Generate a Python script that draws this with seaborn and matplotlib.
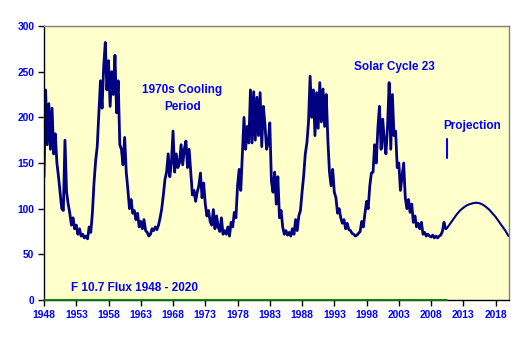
import numpy as np
import pandas as pd
import matplotlib
matplotlib.use("Agg")
import matplotlib.pyplot as plt
import seaborn as sns

# Quarterly F10.7 flux readings, 1948.0 to 2010.25
start_year = 1948
flux = [
    135, 230, 170, 215,   # 1948
    165, 210, 160, 182,   # 1949
    150, 135, 118, 100,   # 1950
    98, 175, 118, 105,    # 1951
    95, 82, 90, 78,       # 1952
    82, 72, 78, 70,       # 1953
    72, 68, 70, 67,       # 1954
    80, 74, 95, 128,      # 1955
    152, 168, 205, 240,   # 1956
    210, 255, 282, 230,   # 1957
    262, 212, 250, 225,   # 1958
    268, 205, 240, 170,   # 1959
    165, 148, 178, 140,   # 1960
    121, 100, 110, 95,    # 1961
    98, 88, 95, 80,       # 1962
    86, 78, 88, 76,       # 1963
    74, 70, 72, 78,       # 1964
    76, 80, 77, 82,       # 1965
    90, 100, 115, 132,    # 1966
    140, 160, 135, 150,   # 1967
    185, 140, 160, 145,   # 1968
    150, 170, 148, 165,   # 1969
    174, 145, 165, 140,   # 1970
    115, 120, 108, 118,   # 1971
    125, 139, 112, 128,   # 1972
    105, 92, 98, 86,      # 1973
    82, 99, 78, 92,       # 1974
    80, 75, 90, 72,       # 1975
    76, 72, 80, 70,       # 1976
    85, 80, 96, 90,       # 1977
    125, 143, 120, 160,   # 1978
    200, 165, 190, 172,   # 1979
    230, 172, 228, 175,   # 1980
    222, 180, 227, 168,   # 1981
    212, 192, 165, 172,   # 1982
    194, 130, 118, 140,   # 1983
    105, 135, 90, 98,     # 1984
    80, 72, 76, 71,       # 1985
    74, 70, 78, 72,       # 1986
    88, 76, 92, 98,       # 1987
    118, 136, 160, 172,   # 1988
    195, 245, 200, 230,   # 1989
    180, 227, 188, 238,   # 1990
    195, 231, 190, 225,   # 1991
    175, 140, 125, 143,   # 1992
    118, 112, 95, 100,    # 1993
    90, 84, 88, 78,       # 1994
    84, 77, 76, 73,       # 1995
    72, 70, 71, 73,       # 1996
    75, 86, 80, 95,       # 1997
    108, 100, 125, 139,   # 1998
    140, 170, 150, 188,   # 1999
    212, 165, 198, 175,   # 2000
    160, 190, 238, 165,   # 2001
    225, 180, 185, 145,   # 2002
    150, 120, 135, 150,   # 2003
    112, 100, 110, 96,    # 2004
    105, 85, 92, 80,      # 2005
    84, 78, 85, 72,       # 2006
    74, 70, 72, 70,       # 2007
    69, 71, 68, 70,       # 2008
    68, 70, 71, 75,       # 2009
    85, 78,               # 2010
]

# Projection curve
proj_years = [2010.4, 2011.0, 2011.5, 2012.0, 2012.5, 2013.0, 2013.5, 2014.0,
              2014.5, 2015.0, 2015.5, 2016.0, 2016.5, 2017.0, 2017.5, 2018.0,
              2018.5, 2019.0, 2019.5, 2020.0]
proj_flux = [78, 84, 89, 94, 98, 101, 103.5, 105, 106, 106.5, 106, 104.5,
             102, 99, 95, 91, 86, 81, 76, 70]

x_ticks = list(range(1948, 2019, 5))
y_ticks = [0, 50, 100, 150, 200, 250, 300]

df = pd.DataFrame({"year": start_year + np.arange(len(flux)) * 0.25, "flux": flux})
dfp = pd.DataFrame({"year": proj_years, "flux": proj_flux})

sns.set_theme(style="white")
plt.rcParams["font.family"] = ["Liberation Sans", "DejaVu Sans"]

fig = plt.figure(figsize=(5.25, 3.42), dpi=100)
fig.patch.set_facecolor("white")
ax = fig.add_axes([44 / 525, 1 - 300 / 342, (508.5 - 44) / 525, 274 / 342])
ax.set_facecolor("#FFFFCC")

navy = "#000080"
blue = "#0000FF"

sns.lineplot(data=df, x="year", y="flux", ax=ax, color=navy, lw=2.0, estimator=None)
sns.lineplot(data=dfp, x="year", y="flux", ax=ax, color=navy, lw=1.5, estimator=None)

ax.set_xlim(1948, 2020)
ax.set_ylim(0, 300)
ax.set_xticks(x_ticks)
ax.set_yticks(y_ticks)
ax.set_xticklabels([str(t) for t in x_ticks])
ax.set_yticklabels([str(t) for t in y_ticks])
ax.set_xlabel("")
ax.set_ylabel("")
ax.tick_params(axis="both", which="major", direction="out", length=4, width=1,
               color="black", labelsize=7.4, labelcolor=blue, pad=3,
               bottom=True, left=True)
for lab in ax.get_xticklabels() + ax.get_yticklabels():
    lab.set_fontweight("bold")

for s in ["left", "bottom"]:
    ax.spines[s].set_color("black")
    ax.spines[s].set_linewidth(1.0)
for s in ["top", "right"]:
    ax.spines[s].set_color("#808080")
    ax.spines[s].set_linewidth(1.0)

# green zero line for the observed period
ax.axhline(0, xmin=0, xmax=(2010.4 - 1948) / 72, color="#008000", lw=1.3,
           clip_on=False, zorder=5)

# projection marker
ax.plot([2010.4, 2010.4], [156, 176], color=blue, lw=1.5)

tk = dict(color=blue, fontsize=8.5, fontweight="bold", ha="center", va="center")
ax.text(1969.35, 229.9, "1970s Cooling", **tk)
ax.text(1969.5, 211.3, "Period", **tk)
ax.text(2002.3, 254.8, "Solar Cycle 23", **tk)
ax.text(2014.4, 190.5, "Projection", **tk)
ax.text(1962.0, 12.8, "F 10.7 Flux 1948 - 2020", **tk)

fig.savefig("out.png", dpi=100, facecolor="white")
